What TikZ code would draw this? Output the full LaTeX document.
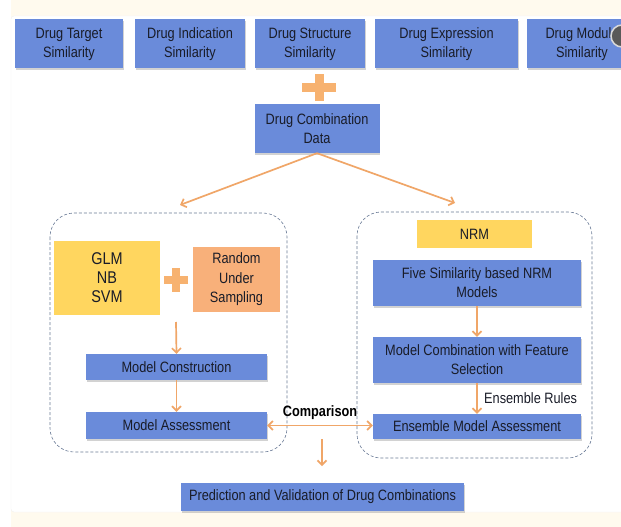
\documentclass[tikz,border=0pt]{standalone}
\usepackage{fontspec}
\setmainfont{Liberation Sans}[FakeStretch=0.85]
\usetikzlibrary{arrows.meta,shadows}
\definecolor{boxblue}{RGB}{106,139,218}
\definecolor{boxyellow}{RGB}{255,214,95}
\definecolor{boxorange}{RGB}{248,176,122}
\definecolor{arrorange}{RGB}{240,166,104}
\definecolor{plusorange}{RGB}{247,178,112}
\definecolor{framegray}{RGB}{105,122,150}
\definecolor{cream}{RGB}{255,250,238}
\definecolor{txtdark}{RGB}{25,28,40}

\tikzset{
  blkbox/.style={fill=boxblue, text=txtdark, align=center, inner sep=0pt,
    drop shadow={shadow xshift=0.6pt, shadow yshift=-1.5pt, opacity=0.35}},
  ylwbox/.style={fill=boxyellow, text=txtdark, align=center, inner sep=0pt},
  orgbox/.style={fill=boxorange, text=txtdark, align=center, inner sep=0pt},
  arr/.style={draw=arrorange, line width=1.7pt, -{Straight Barb[length=4.5pt,width=9pt]}},
  frame/.style={draw=framegray, densely dashed, line width=0.6pt, rounded corners=24pt}
}

\begin{document}
\begin{tikzpicture}[x=1pt, y=-1pt, font=\fontsize{15}{19}\selectfont]
    \useasboundingbox (0,0) rectangle (621,527);
    % background panel
    \fill[cream] (11,0) rectangle (621,527);
    \filldraw[fill=white, draw=gray!12, rounded corners=3pt] (11,16) rectangle (640,512);
    \begin{scope}
    \clip (0,0) rectangle (621,527);
    % similarity boxes
    \node[blkbox, minimum width=108pt, minimum height=49pt] (t1) at (69,44) {Drug Target\\Similarity};
    \node[blkbox, minimum width=110pt, minimum height=49pt] (t2) at (190,44) {Drug Indication\\Similarity};
    \node[blkbox, minimum width=110pt, minimum height=49pt] (t3) at (310,44) {Drug Structure\\Similarity};
    \node[blkbox, minimum width=143pt, minimum height=49pt] (t4) at (446.5,44) {Drug Expression\\Similarity};
    \node[blkbox, minimum width=110pt, minimum height=49pt] (t5) at (582,44) {Drug Module\\Similarity};
    \filldraw[fill=gray!70!black, draw=gray!30, line width=1.5pt] (622,36) circle (11pt);
    \end{scope}
    % plus
    \fill[plusorange] (302,83) rectangle (336,92);
    \fill[plusorange] (314.5,74) rectangle (323.5,101);
    \node[blkbox, minimum width=125pt, minimum height=49pt] (comb) at (317,128.5) {Drug Combination\\Data};
    \coordinate (lb) at (180,205);
    \coordinate (rb) at (455,203);
    \draw[arr] (comb.south) -- (lb);
    \draw[arr] (comb.south) -- (rb);
    % left branch
    \draw[frame] (50,213) rectangle (287,452);
    \node[ylwbox, minimum width=106pt, minimum height=74pt, font=\fontsize{17}{19}\selectfont] (glm) at (107,278) {GLM\\NB\\SVM};
    \fill[plusorange] (164,276) rectangle (188,284);
    \fill[plusorange] (172,268) rectangle (180,292);
    \node[orgbox, minimum width=87pt, minimum height=65pt, font=\fontsize{15}{19.5}\selectfont] (rus) at (236.5,279.5) {Random\\Under\\Sampling};
    \coordinate (cs) at (176,322);
    \node[blkbox, minimum width=181pt, minimum height=26pt] (mc) at (176.5,367) {Model Construction};
    \node[blkbox, minimum width=181pt, minimum height=27pt] (ma) at (176.5,425.5) {Model Assessment};
    \draw[arr] (cs) -- (mc.north);
    \draw[arr] (mc.south) -- (ma.north);
    % right branch
    \draw[frame] (357,212) rectangle (592,458);
    \node[ylwbox, minimum width=115pt, minimum height=28pt] (nrm) at (474.5,234) {NRM};
    \node[blkbox, minimum width=208pt, minimum height=46pt] (five) at (477,283) {Five Similarity based NRM\\Models};
    \node[blkbox, minimum width=208pt, minimum height=46pt] (mcomb) at (477,360) {Model Combination with Feature\\Selection};
    \node[blkbox, minimum width=208pt, minimum height=25pt] (ema) at (477,426.5) {Ensemble Model Assessment};
    \draw[arr] (five.south) -- (mcomb.north);
    \draw[arr] (mcomb.south) -- node[right=3pt, text=txtdark] {Ensemble Rules} (ema.north);
    % comparison
    \draw[arr, {Straight Barb[length=4.5pt,width=9pt]}-{Straight Barb[length=4.5pt,width=9pt]}] (ma.east) -- node[above=2pt, text=black, font=\fontsize{15}{17}\bfseries] {Comparison} (ma.east -| ema.west);
    \coordinate (ps) at (322,439);
    \coordinate (pe) at (322,466);
    \node[blkbox, minimum width=283pt, minimum height=28pt] (pred) at (322.5,497) {Prediction and Validation of Drug Combinations};
    \draw[arr] (ps) -- (pe);
  \end{tikzpicture}
\end{document}
